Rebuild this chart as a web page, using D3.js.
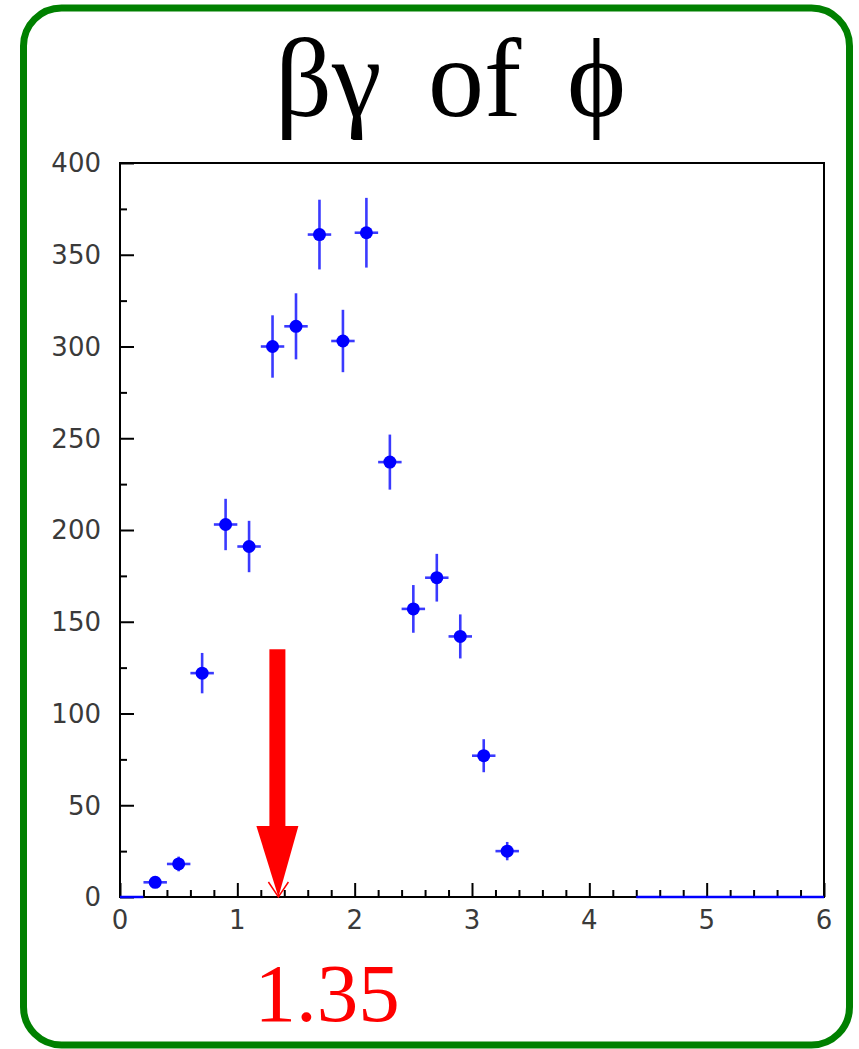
<!DOCTYPE html>
<html>
<head>
<meta charset="utf-8">
<script src="https://cdn.jsdelivr.net/npm/d3@7"></script>
<style>
  html, body { margin: 0; padding: 0; background: #fff; }
  svg { display: block; }
</style>
</head>
<body>
<svg id="chart" width="859" height="1049"></svg>
<script>
// Bin centres (βγ, bin width 0.2), counts and statistical errors
const binCenters = [0.3, 0.5, 0.7, 0.9, 1.1, 1.3, 1.5, 1.7, 1.9, 2.1, 2.3, 2.5, 2.7, 2.9, 3.1, 3.3];
const counts     = [8, 18, 122, 203, 191, 300, 311, 361, 303, 362, 237, 157, 174, 142, 77, 25];
const errors     = [3, 4, 11, 14, 14, 17, 18, 19, 17, 19, 15, 13, 13, 12, 9, 5];
// Empty bins drawn as flat segments on the axis
const emptyBins  = [0.1, 4.5, 4.7, 4.9, 5.1, 5.3, 5.5, 5.7, 5.9];
const binHalfWidth = 0.1;

const xTicks = [0, 1, 2, 3, 4, 5, 6];
const yTicks = [0, 50, 100, 150, 200, 250, 300, 350, 400];

const cutValue = 1.35;       // marked cut position
const cutArrowTop = 135;     // arrow starts at this count level
const cutLabel = "1.35";

const svg = d3.select("#chart");

const x = d3.scaleLinear().domain([0, 6]).range([120, 824]);
const y = d3.scaleLinear().domain([0, 400]).range([897, 163]);

const labelFont = "'DejaVu Sans', Verdana, sans-serif";
const serifFont = "'Liberation Serif', 'Times New Roman', serif";

// Rounded green frame
svg.append("rect")
  .attr("x", 23.5).attr("y", 8)
  .attr("width", 826).attr("height", 1037)
  .attr("rx", 38).attr("ry", 38)
  .attr("fill", "none")
  .attr("stroke", "#008000")
  .attr("stroke-width", 7);

// Title
const title = svg.append("text")
  .attr("y", 116)
  .attr("font-family", serifFont)
  .attr("font-size", 112)
  .attr("fill", "#000");
title.append("tspan").attr("x", 275).text("βγ");
title.append("tspan").attr("x", 428).text("of");
title.append("tspan").attr("x", 567).text("ϕ");

// Plot frame
svg.append("rect")
  .attr("x", x(0)).attr("y", y(400))
  .attr("width", x(6) - x(0)).attr("height", y(0) - y(400))
  .attr("fill", "none").attr("stroke", "#000").attr("stroke-width", 2);

// Y axis: ticks point into the plot
const yAxis = d3.axisRight(y)
  .tickValues(yTicks)
  .tickSize(14)
  .tickFormat("");
const gy = svg.append("g").attr("transform", `translate(${x(0)},0)`).call(yAxis);
gy.select(".domain").remove();
gy.selectAll("line").attr("stroke", "#000").attr("stroke-width", 2);

const yMinor = d3.axisRight(y).tickValues(d3.range(25, 400, 50)).tickSize(7).tickFormat("");
const gym = svg.append("g").attr("transform", `translate(${x(0)},0)`).call(yMinor);
gym.select(".domain").remove();
gym.selectAll("line").attr("stroke", "#000").attr("stroke-width", 2);

svg.append("g").selectAll("text").data(yTicks).join("text")
  .attr("x", 101).attr("y", d => y(d))
  .attr("dy", "0.36em")
  .attr("text-anchor", "end")
  .attr("font-family", labelFont)
  .attr("font-size", 26)
  .attr("fill", "#3a3a3a")
  .text(d => d);

// X axis: ticks point up into the plot
const xAxis = d3.axisTop(x).tickValues(xTicks).tickSize(14).tickFormat("");
const gx = svg.append("g").attr("transform", `translate(0,${y(0)})`).call(xAxis);
gx.select(".domain").remove();
gx.selectAll("line").attr("stroke", "#000").attr("stroke-width", 2);

const xMinorVals = d3.range(0, 30).map(i => i * 0.2).filter(v => Math.abs(v - Math.round(v)) > 1e-6);
const xMinor = d3.axisTop(x).tickValues(xMinorVals).tickSize(7).tickFormat("");
const gxm = svg.append("g").attr("transform", `translate(0,${y(0)})`).call(xMinor);
gxm.select(".domain").remove();
gxm.selectAll("line").attr("stroke", "#000").attr("stroke-width", 2);

svg.append("g").selectAll("text").data(xTicks).join("text")
  .attr("x", d => x(d)).attr("y", 929)
  .attr("text-anchor", "middle")
  .attr("font-family", labelFont)
  .attr("font-size", 26)
  .attr("fill", "#3a3a3a")
  .text(d => d);

// Empty bins along the axis
svg.append("g").selectAll("line").data(emptyBins).join("line")
  .attr("x1", d => x(d - binHalfWidth)).attr("x2", d => x(d + binHalfWidth))
  .attr("y1", y(0)).attr("y2", y(0))
  .attr("stroke", "#0000ff").attr("stroke-width", 2.5);

// Histogram points with error bars
const pts = binCenters.map((c, i) => ({ c, n: counts[i], e: errors[i] }));
const gp = svg.append("g");
gp.selectAll("line.v").data(pts).join("line").attr("class", "v")
  .attr("x1", d => x(d.c)).attr("x2", d => x(d.c))
  .attr("y1", d => y(d.n - d.e)).attr("y2", d => y(d.n + d.e))
  .attr("stroke", "#3a3aff").attr("stroke-width", 2.6);
gp.selectAll("line.h").data(pts).join("line").attr("class", "h")
  .attr("x1", d => x(d.c - binHalfWidth)).attr("x2", d => x(d.c + binHalfWidth))
  .attr("y1", d => y(d.n)).attr("y2", d => y(d.n))
  .attr("stroke", "#3a3aff").attr("stroke-width", 2.6);
gp.selectAll("circle").data(pts).join("circle")
  .attr("cx", d => x(d.c)).attr("cy", d => y(d.n))
  .attr("r", 6.5)
  .attr("fill", "#0000ff");

// Cut arrow
const ax = x(cutValue);
const tipY = y(0);
const headLen = 71, headHalf = 21, shaftHalf = 8;
svg.append("rect")
  .attr("x", ax - 1 - shaftHalf).attr("y", y(cutArrowTop))
  .attr("width", shaftHalf * 2).attr("height", tipY - headLen - y(cutArrowTop) + 1)
  .attr("fill", "#ff0000");
svg.append("path")
  .attr("d", `M${ax - 1 - headHalf},${tipY - headLen} L${ax - 1 + headHalf},${tipY - headLen} L${ax},${tipY} Z`)
  .attr("fill", "#ff0000");
svg.append("path")
  .attr("d", `M${ax - 10},${tipY - 15} L${ax},${tipY} L${ax + 10},${tipY - 15}`)
  .attr("fill", "none").attr("stroke", "#ff0000").attr("stroke-width", 1.5);

// Cut value label
svg.append("text")
  .attr("x", 327).attr("y", 1021)
  .attr("text-anchor", "middle")
  .attr("font-family", serifFont)
  .attr("font-size", 83)
  .attr("fill", "#ff0000")
  .text(cutLabel);
</script>
</body>
</html>
